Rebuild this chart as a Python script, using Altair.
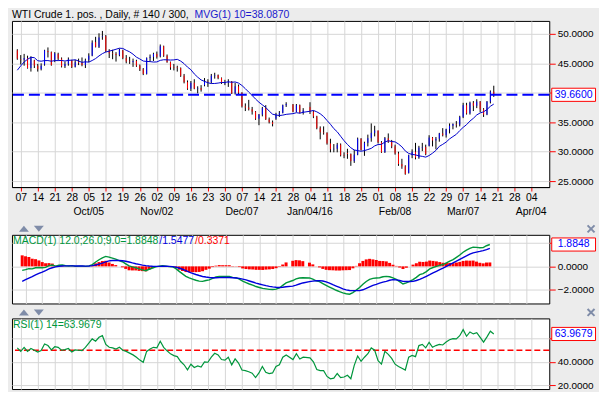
import json
import numpy as np
import pandas as pd
import altair as alt

# ---------------- values ----------------
holidays = ["2015-12-25", "2016-01-01"]
dates = [d for d in pd.bdate_range("2015-09-04", "2016-03-18")
         if d.strftime("%Y-%m-%d") not in holidays]

opens = [47.2, 45.7, 45.6, 45.9, 44.2, 45.5, 44.6, 44.0, 44.8, 47.1,
         46.9, 45.6, 46.6, 45.8, 44.5, 44.9, 45.5, 44.4, 45.3, 45.1,
         44.7, 45.6, 46.3, 48.6, 47.8, 49.5, 49.6, 47.1, 46.7, 46.6,
         46.4, 47.2, 45.9, 45.3, 45.2, 45.4, 44.6, 44.0, 43.2, 45.9,
         46.1, 46.6, 46.2, 47.9, 46.3, 45.2, 44.3, 44.3, 44.2, 42.9,
         41.8, 40.7, 41.7, 40.7, 40.8, 41.3, 41.9, 41.8, 42.9, 43.0,
         42.5, 41.6, 41.7, 41.9, 39.9, 41.1, 40.0, 37.7, 37.5, 37.2,
         36.8, 35.6, 36.3, 37.4, 35.5, 35.0, 35.6, 36.3, 36.6, 37.9,
         38.0, 36.8, 37.9, 36.6, 37.6, 36.8, 36.0, 34.0, 33.3, 33.2,
         31.4, 30.4, 30.5, 31.2, 29.4, 29.8, 29.6, 28.4, 29.5, 32.2,
         30.3, 31.5, 32.3, 33.2, 33.6, 31.6, 29.9, 32.3, 31.7, 30.9,
         29.7, 27.9, 27.5, 26.4, 29.4, 30.0, 29.0, 30.7, 30.8, 31.0,
         32.4, 31.9, 32.2, 33.1, 32.8, 33.8, 34.4, 34.7, 34.6, 35.9,
         37.9, 36.5, 38.3, 37.8, 38.5, 37.2, 36.3, 38.5, 40.2]
highs = [47.4, 46.4, 46.6, 46.3, 46.2, 45.6, 44.9, 45.0, 47.3, 47.7,
         47.0, 46.9, 46.8, 46.0, 45.3, 46.0, 45.6, 45.6, 45.8, 46.0,
         45.8, 46.7, 48.9, 49.5, 50.1, 50.5, 49.8, 47.4, 47.3, 46.9,
         47.5, 47.3, 46.4, 46.1, 45.8, 45.6, 44.8, 44.2, 46.0, 46.5,
         46.8, 47.0, 48.2, 48.0, 46.5, 45.3, 44.9, 44.6, 44.3, 43.2,
         42.1, 42.0, 42.3, 41.1, 41.3, 42.5, 42.3, 43.2, 43.4, 43.1,
         42.6, 42.2, 42.3, 42.0, 41.7, 41.4, 40.1, 38.2, 38.8, 37.6,
         36.9, 36.4, 37.6, 37.9, 35.8, 35.3, 36.6, 36.9, 38.0, 38.4,
         38.1, 38.1, 38.0, 37.4, 38.4, 37.0, 36.1, 34.3, 34.3, 33.3,
         32.2, 31.3, 31.5, 31.4, 29.9, 30.5, 29.7, 30.3, 32.4, 32.3,
         31.7, 32.9, 34.8, 34.4, 33.6, 31.8, 32.5, 33.1, 32.0, 31.2,
         30.0, 28.8, 27.7, 29.5, 30.4, 31.5, 31.0, 31.5, 31.2, 32.8,
         32.5, 32.5, 33.2, 34.0, 33.9, 34.8, 34.8, 35.2, 36.1, 38.3,
         38.3, 38.5, 38.6, 38.9, 38.6, 37.4, 38.6, 40.4, 41.2]
lows = [45.6, 44.8, 44.6, 44.1, 43.6, 44.2, 43.6, 43.8, 44.6, 46.0,
        44.6, 45.2, 45.5, 44.3, 44.2, 44.6, 44.2, 44.3, 44.7, 44.5,
        44.2, 45.2, 46.2, 47.7, 47.6, 49.0, 46.9, 45.9, 45.7, 45.3,
        46.2, 45.7, 45.0, 44.9, 44.4, 44.4, 43.7, 43.0, 43.1, 45.3,
        45.4, 45.8, 46.0, 46.1, 45.1, 43.9, 43.8, 43.6, 42.7, 41.6,
        40.5, 40.3, 40.6, 39.9, 40.2, 41.1, 41.0, 41.6, 42.4, 42.3,
        41.5, 41.3, 41.0, 39.8, 39.7, 39.8, 37.5, 36.9, 37.0, 36.3,
        35.4, 34.5, 36.0, 35.4, 34.8, 34.3, 35.4, 35.9, 36.5, 37.6,
        36.7, 36.7, 36.5, 36.3, 36.4, 35.7, 33.8, 32.1, 32.9, 31.2,
        29.9, 29.9, 29.9, 29.2, 28.9, 28.8, 27.6, 28.1, 29.4, 30.2,
        29.3, 30.9, 31.7, 32.6, 31.4, 29.8, 29.8, 31.5, 30.6, 29.5,
        27.6, 27.1, 26.1, 26.3, 28.9, 28.7, 28.8, 30.1, 29.4, 30.9,
        30.9, 30.4, 31.7, 32.6, 32.4, 33.1, 33.8, 34.1, 34.3, 35.7,
        36.3, 36.3, 36.9, 37.4, 36.7, 35.9, 36.2, 38.2, 39.3]
closes = [45.8, 45.6, 45.9, 44.2, 45.9, 44.6, 44.0, 44.6, 47.2, 46.9,
          44.7, 46.7, 45.8, 44.5, 44.9, 45.7, 44.4, 45.2, 45.1, 44.7,
          45.5, 46.3, 48.5, 47.8, 49.4, 49.6, 47.1, 46.7, 46.6, 46.4,
          47.3, 45.9, 45.3, 45.2, 45.4, 44.6, 44.0, 43.2, 45.9, 46.1,
          46.6, 46.1, 47.9, 46.3, 45.2, 44.3, 44.2, 44.2, 42.9, 41.8,
          40.7, 41.7, 40.7, 40.8, 40.5, 41.9, 41.8, 42.9, 43.0, 42.5,
          41.7, 41.7, 41.9, 39.9, 41.1, 40.0, 37.7, 37.5, 37.2, 36.8,
          35.6, 36.3, 37.4, 35.5, 35.0, 34.7, 36.3, 36.6, 37.9, 38.1,
          36.8, 37.9, 36.6, 37.0, 36.8, 36.0, 34.0, 33.3, 33.2, 31.4,
          30.4, 30.5, 31.2, 29.4, 29.3, 29.6, 28.4, 29.5, 32.2, 30.3,
          31.5, 32.3, 33.2, 33.6, 31.6, 29.9, 32.3, 31.7, 30.9, 29.7,
          27.9, 27.5, 26.2, 29.4, 30.0, 29.0, 30.7, 30.8, 29.6, 32.4,
          31.9, 32.2, 33.1, 32.8, 33.8, 34.4, 34.7, 34.6, 35.9, 37.9,
          36.5, 38.3, 37.8, 38.5, 37.2, 36.3, 38.5, 40.2, 39.66]
mvg10 = [43.83, 44.57, 45.23, 45.69, 46.02, 45.96, 45.44, 45.36, 45.46, 45.47,
         45.36, 45.47, 45.46, 45.49, 45.39, 45.50, 45.54, 45.60, 45.39, 45.17,
         45.25, 45.21, 45.48, 45.81, 46.26, 46.65, 46.92, 47.07, 47.22, 47.39,
         47.57, 47.53, 47.21, 46.95, 46.55, 46.05, 45.74, 45.39, 45.32, 45.29,
         45.22, 45.24, 45.50, 45.61, 45.59, 45.56, 45.58, 45.68, 45.38, 44.95,
         44.36, 43.92, 43.20, 42.65, 42.18, 41.94, 41.70, 41.57, 41.58, 41.65,
         41.75, 41.75, 41.87, 41.78, 41.84, 41.65, 41.24, 40.70, 40.12, 39.55,
         38.94, 38.40, 37.95, 37.51, 36.90, 36.37, 36.23, 36.14, 36.21, 36.34,
         36.46, 36.62, 36.54, 36.69, 36.87, 37.00, 36.77, 36.44, 35.97, 35.30,
         34.66, 33.92, 33.38, 32.62, 31.87, 31.23, 30.67, 30.29, 30.19, 30.08,
         30.19, 30.37, 30.57, 30.99, 31.22, 31.25, 31.64, 31.86, 31.73, 31.67,
         31.31, 30.83, 30.13, 29.71, 29.55, 29.46, 29.30, 29.21, 29.08, 29.35,
         29.75, 30.22, 30.91, 31.25, 31.63, 32.17, 32.57, 32.95, 33.58, 34.13,
         34.59, 35.20, 35.67, 36.24, 36.58, 36.77, 37.15, 37.71, 38.087]
macd_line = [-0.34, -0.28, -0.20, -0.22, -0.12, -0.10, -0.12, -0.09, 0.06, 0.12,
             0.02, 0.10, 0.12, 0.05, 0.03, 0.06, 0.00, 0.02, 0.02, 0.00,
             0.04, 0.15, 0.38, 0.57, 0.74, 0.86, 0.80, 0.71, 0.62, 0.50,
             0.40, 0.22, 0.04, -0.05, -0.12, -0.22, -0.30, -0.37, -0.25, -0.14,
             -0.04, 0.02, 0.06, 0.02, -0.02, -0.03, -0.20, -0.43, -0.65, -0.86,
             -1.00, -1.10, -1.20, -1.27, -1.29, -1.22, -1.16, -1.04, -0.92, -0.86,
             -0.86, -0.86, -0.86, -0.95, -0.98, -1.10, -1.28, -1.40, -1.52, -1.62,
             -1.74, -1.82, -1.90, -1.94, -1.98, -2.00, -1.96, -1.86, -1.64, -1.42,
             -1.22, -1.08, -1.00, -0.98, -1.00, -1.10, -1.25, -1.32, -1.48, -1.64,
             -1.78, -1.92, -2.06, -2.18, -2.28, -2.36, -2.40, -2.26, -2.05, -1.82,
             -1.55, -1.30, -1.12, -1.04, -1.00, -0.98, -0.90, -0.86, -0.90, -1.00,
             -1.12, -1.32, -1.52, -1.42, -1.30, -1.14, -0.95, -0.72, -0.62, -0.45,
             -0.22, -0.10, 0.00, 0.08, 0.16, 0.30, 0.45, 0.58, 0.78, 0.98,
             1.22, 1.40, 1.55, 1.66, 1.64, 1.60, 1.62, 1.78, 1.8848]
signal_line = [-1.29, -1.15, -1.01, -0.88, -0.74, -0.61, -0.49, -0.36, -0.22, -0.12,
               -0.04, 0.01, 0.03, 0.04, 0.04, 0.04, 0.03, 0.03, 0.03, 0.02,
               0.03, 0.06, 0.12, 0.20, 0.28, 0.38, 0.47, 0.50, 0.51, 0.50,
               0.48, 0.44, 0.38, 0.30, 0.23, 0.17, 0.11, 0.06, 0.03, 0.01,
               0.00, 0.00, 0.01, 0.01, 0.00, -0.02, -0.06, -0.14, -0.25, -0.37,
               -0.50, -0.60, -0.70, -0.79, -0.87, -0.92, -0.96, -0.98, -0.98, -0.97,
               -0.96, -0.96, -0.96, -0.98, -1.00, -1.04, -1.10, -1.17, -1.26, -1.35,
               -1.44, -1.52, -1.59, -1.66, -1.72, -1.77, -1.80, -1.82, -1.80, -1.76,
               -1.70, -1.62, -1.52, -1.43, -1.32, -1.27, -1.24, -1.23, -1.26, -1.34,
               -1.45, -1.58, -1.70, -1.82, -1.94, -2.03, -2.08, -2.09, -2.09, -2.09,
               -2.02, -1.90, -1.77, -1.64, -1.55, -1.45, -1.36, -1.29, -1.20, -1.14,
               -1.16, -1.22, -1.29, -1.30, -1.30, -1.29, -1.22, -1.12, -1.00, -0.86,
               -0.72, -0.57, -0.43, -0.29, -0.15, 0.00, 0.15, 0.30, 0.45, 0.60,
               0.75, 0.90, 1.06, 1.16, 1.23, 1.29, 1.36, 1.45, 1.5477]
rsi14 = [52, 49, 52.5, 49, 51.5, 50, 48.5, 49.7, 55.4, 54,
         50.3, 53, 52.5, 50, 50.5, 51.5, 48.5, 50.3, 50, 49.7,
         52.5, 56, 59.7, 57.7, 61.1, 62.5, 55, 52.5, 52, 51,
         52.5, 50, 49, 47.5, 46, 44, 41.5, 39.7, 49, 51,
         52.5, 52, 57.7, 52.5, 49.5, 46.9, 45.4, 44.5, 40.3, 37.5,
         33.2, 38, 35.2, 36.5, 35.5, 40, 39.7, 44, 47.4, 46,
         42, 41.5, 44, 37.4, 42.6, 39, 33, 32.5, 31.5, 30.3,
         26.5, 30.5, 36, 31, 30, 30.5, 36, 37.5, 44, 46,
         42, 47, 42.5, 44, 43.5, 40, 33.5, 32.5, 32.5, 27.5,
         25.5, 26, 30, 26.5, 27, 28.5, 25.5, 37, 45, 40.5,
         44, 47, 52, 50, 41, 38, 49, 46.5, 43, 38,
         36, 34.5, 33, 44, 45.5, 44.5, 54, 55, 52, 56.8,
         52.5, 54, 55, 54.5, 57, 59, 60, 59.7, 62.5, 67.7,
         62, 65.7, 64, 65, 61, 57, 61.5, 66.3, 63.9679]

tick_labels = ["07", "14", "21", "28", "05", "12", "19", "26", "02", "09", "16",
               "23", "30", "07", "14", "21", "28", "04", "11", "18", "25", "01",
               "08", "15", "22", "29", "07", "14", "21", "28", "04"]
month_labels = ["Oct/05", "Nov/02", "Dec/07", "Jan/04/16", "Feb/08", "Mar/07", "Apr/04"]
month_weeks = [4, 8, 13, 17, 22, 26, 30]
price_ticks = [25, 30, 35, 40, 45, 50]
macd_ticks = [-2, 0, 2]
rsi_ticks = [20, 40, 60]
rsi_mid = [50]
# tick labels covered by the last-value boxes in the picture
covered = {"price": 40, "macd": 2, "rsi": 60}

title_main = "WTI Crude 1. pos. , Daily, # 140 / 300,"
title_mvg = "MVG(1) 10=38.0870"
macd_txt = ["MACD(1) 12.0;26.0;9.0=1.8848", "/1.5477", "/0.3371"]
rsi_txt = "RSI(1) 14=63.9679"

# ---------------- frame ----------------
base_day = np.datetime64("2015-09-07")
slots = [int(np.busday_count(base_day, np.datetime64(d.date()))) for d in dates]
df = pd.DataFrame(dict(slot=slots, open=opens, high=highs, low=lows, close=closes,
                       mvg=mvg10, macd=macd_line, signal=signal_line, rsi=rsi14))
df["dir"] = np.where(df["close"] >= df["open"], "up", "down")
last = df.tail(1).reset_index(drop=True)
months_df = pd.DataFrame({"slot": [5 * w for w in month_weeks], "label": month_labels})
rsi_ref = pd.DataFrame({"level": rsi_mid})

FONT = "Liberation Sans"
BG = "#ececec"
GRID = "#d6d6d6"
GREEN = "#00963c"
W = 540
HP, HM, HR = 167, 69, 71
BOX_X = 564.5
BOX = "M-1,-0.3L1,-0.3L1,0.3L-1,0.3Z"

xs = alt.Scale(domain=[-2.57, 155.3], nice=False, zero=False)
tick_vals = [5 * i for i in range(len(tick_labels))]
label_expr = json.dumps(tick_labels) + "[round(datum.value / 5)]"

X_AXIS_PRICE = alt.Axis(values=tick_vals, labelExpr=label_expr, title=None, grid=True,
                        gridColor=GRID, ticks=True, tickColor="#ff0000", tickSize=4,
                        labelPadding=2, labelFontSize=10.5, labelFont=FONT, labelColor="black",
                        domain=True, domainColor="black", labelFlush=False,
                        labelOverlap=False, zindex=0)
X_AXIS_PLAIN = alt.Axis(values=tick_vals, labels=False, ticks=False, domain=False,
                        title=None, grid=True, gridColor=GRID, zindex=0)


def y_axis(vals, hide):
    return alt.Axis(orient="right", values=vals, format=".4f", title=None, grid=True,
                    labelExpr=f"datum.value == {hide} ? '' : datum.label",
                    gridColor=GRID, tickColor="#ff0000", tickSize=6, labelPadding=2,
                    domain=False, labelFontSize=10, labelFont=FONT, labelColor="black",
                    labelOverlap=False, zindex=0)


def ptext(text, x, y, color, size=10.5, align="left", baseline="middle"):
    return alt.Chart(last).mark_text(text=text, align=align, baseline=baseline, color=color,
                                     fontSize=size, font=FONT).encode(x=alt.value(x), y=alt.value(y))


def anchor(y):
    return alt.Chart(last).mark_rule(color=BG, strokeWidth=1).encode(
        x=alt.value(0), x2=alt.value(4), y=alt.value(y))


def value_box(field, yenc):
    box = alt.Chart(last).mark_point(shape=BOX, size=44 * 44, fill="white", stroke="#ff0000",
                                     strokeWidth=1, opacity=1, fillOpacity=1).encode(
        x=alt.value(BOX_X), y=yenc(field))
    txt = alt.Chart(last).mark_text(color="#0000ff", fontSize=10.5, font=FONT, align="center",
                                    baseline="middle").encode(
        x=alt.value(BOX_X), y=yenc(field),
        text=alt.Text(f"{field}:Q", format=".4f"))
    return [box, txt]


def icons():
    up = alt.Chart(last).mark_point(shape="M-1,0.6L1,0.6L0,-0.6Z", size=100, filled=True,
                                    color="#7f8ca8", opacity=1).encode(
        x=alt.value(12), y=alt.value(-6))
    dn = alt.Chart(last).mark_point(shape="M-1,-0.6L1,-0.6L0,0.6Z", size=100, filled=True,
                                    color="#7f8ca8", opacity=1).encode(
        x=alt.value(27), y=alt.value(-6))
    xx = alt.Chart(last).mark_point(shape="M-1,-1L1,1M1,-1L-1,1", size=49, filled=False,
                                    color="#7f8ca8", strokeWidth=2, opacity=1).encode(
        x=alt.value(582), y=alt.value(-6))
    return [up, dn, xx]


# ---------------- price panel ----------------
ys_p = alt.Scale(domain=[24, 52.2], nice=False, zero=False)
YAX_P = y_axis(price_ticks, covered["price"])


def xp(f="slot"):
    return alt.X(f"{f}:Q", scale=xs, axis=X_AXIS_PRICE)


def yp(f):
    return alt.Y(f"{f}:Q", scale=ys_p, axis=YAX_P)


hl = alt.Chart(df).mark_rule(color="black", strokeWidth=1).encode(
    x=xp(), y=yp("low"), y2="high:Q")
oc = alt.Chart(df).mark_rule(strokeWidth=1).encode(
    x=xp(), y=yp("open"), y2="close:Q",
    color=alt.Color("dir:N", scale=alt.Scale(domain=["up", "down"], range=["#0000ff", "#ff0000"]),
                    legend=None))
lastline = alt.Chart(last).mark_rule(color="#0000ff", strokeWidth=2, strokeDash=[11, 5]).encode(
    y=yp("close"))
mvg = alt.Chart(df).mark_line(color="#0000cc", strokeWidth=1).encode(x=xp(), y=yp("mvg"))
mtext = alt.Chart(months_df).mark_text(baseline="top", fontSize=10.5, font=FONT, color="black").encode(
    x=xp(), y=alt.value(HP + 20.5), text="label:N")
price = alt.layer(
    hl, oc, lastline, mvg, *value_box("close", yp), mtext,
    ptext(title_main, 0, -11, "black", baseline="top"),
    ptext(title_mvg, 183.5, -11, "#1a1acc", baseline="top"),
    anchor(HP + 33),
).properties(width=W, height=HP)

# ---------------- MACD panel ----------------
ys_m = alt.Scale(domain=[-3.2, 2.72], nice=False, zero=False)
YAX_M = y_axis(macd_ticks, covered["macd"])


def xm():
    return alt.X("slot:Q", scale=xs, axis=X_AXIS_PLAIN)


def ym(f):
    return alt.Y(f"{f}:Q", scale=ys_m, axis=YAX_M)


hist = alt.Chart(df).transform_calculate(hist="datum.macd - datum.signal").mark_bar(
    color="#ff0000", size=3).encode(x=xm(), y=ym("hist"), y2=alt.datum(0))
mline = alt.Chart(df).mark_line(color=GREEN, strokeWidth=1.4).encode(x=xm(), y=ym("macd"))
sline = alt.Chart(df).mark_line(color="#0000dd", strokeWidth=1.4).encode(x=xm(), y=ym("signal"))
macd = alt.layer(
    hist, mline, sline, *value_box("macd", ym),
    ptext(macd_txt[0], 1, 6.5, GREEN),
    ptext(macd_txt[1], 148, 6.5, "#0000dd"),
    ptext(macd_txt[2], 184, 6.5, "#ff0000"),
    *icons(), anchor(-12),
).properties(width=W, height=HM)

# ---------------- RSI panel ----------------
ys_r = alt.Scale(domain=[16.67, 77.33], nice=False, zero=False)
YAX_R = y_axis(rsi_ticks, covered["rsi"])


def yr(f):
    return alt.Y(f"{f}:Q", scale=ys_r, axis=YAX_R)


rline = alt.Chart(df).mark_line(color=GREEN, strokeWidth=1.2).encode(x=xm(), y=yr("rsi"))
mid = alt.Chart(rsi_ref).mark_rule(color="#ff0000", strokeWidth=1.5, strokeDash=[6, 3]).encode(
    y=yr("level"))
rsi = alt.layer(
    mid, rline, *value_box("rsi", yr),
    ptext(rsi_txt, 1, 6.5, GREEN),
    *icons(), anchor(-11),
).properties(width=W, height=HR)

chart = alt.vconcat(price, macd, rsi, spacing=0, bounds="full").properties(
    background=BG, padding={"left": 2, "top": 0, "right": 0, "bottom": 0}
).configure_view(stroke="black", strokeWidth=1, fill="white").configure_text(font=FONT)

chart.save("out.html", embed_options={"renderer": "svg", "actions": False})
